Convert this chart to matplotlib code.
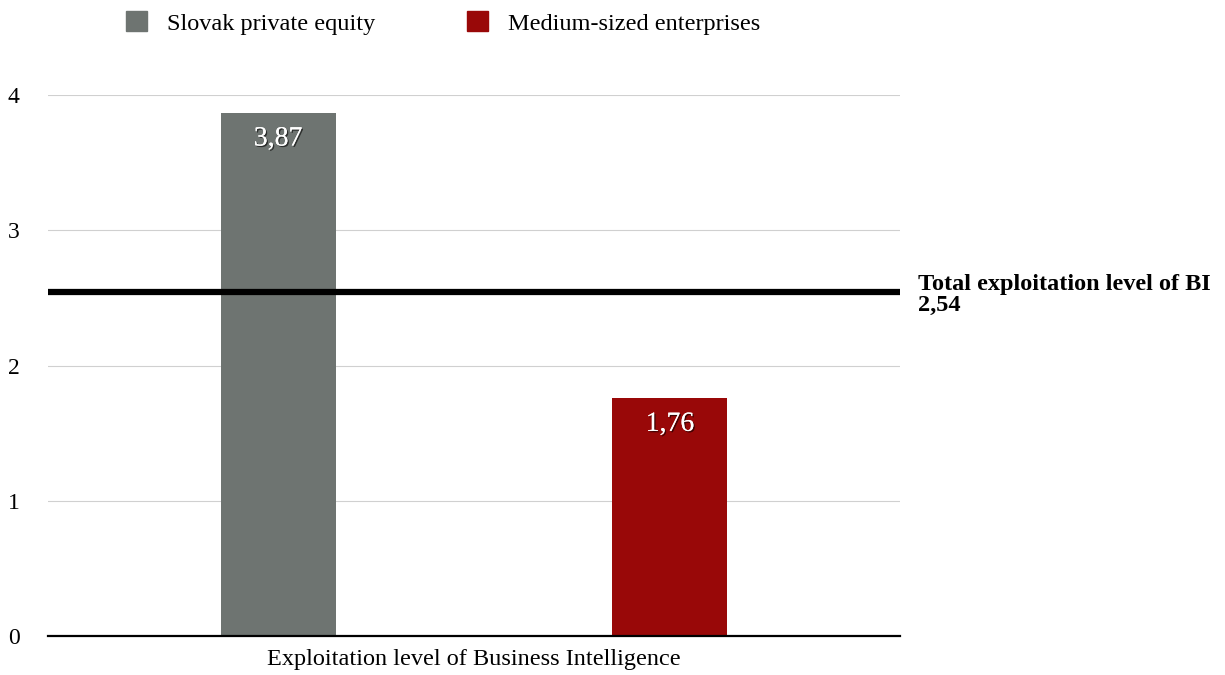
import matplotlib.pyplot as plt
import matplotlib.patheffects as pe
from matplotlib.patches import Patch

plt.rcParams["font.family"] = ["Liberation Serif", "DejaVu Serif"]

series = ["Slovak private equity", "Medium-sized enterprises"]
values = [3.87, 1.76]
colors = ["#6e7471", "#990808"]
total_level = 2.54
category = "Exploitation level of Business Intelligence"
yticks = [0, 1, 2, 3, 4]


def fmt(v):
    # decimal comma
    return f"{v:.2f}".replace(".", ",")


fig = plt.figure(figsize=(12.25, 6.75), dpi=100)
ax = fig.add_axes([48 / 1225, 39 / 675, 852 / 1225, 541 / 675])

offsets = [-0.23, 0.23]
bars = ax.bar(offsets, values, width=0.135, color=colors, zorder=3)

for bar, v in zip(bars, values):
    ax.annotate(
        fmt(v),
        (bar.get_x() + bar.get_width() / 2, bar.get_height()),
        xytext=(0, -10),
        textcoords="offset points",
        ha="center",
        va="top",
        fontsize=20,
        color="white",
        zorder=5,
        path_effects=[pe.withSimplePatchShadow(offset=(1, -1), shadow_rgbFace="black", alpha=0.6), pe.Normal()],
    )

# overall level across all enterprises
ax.axhline(total_level, color="black", linewidth=4.5, zorder=4)
ax.annotate(
    f"Total exploitation level of BI\n{fmt(total_level)}",
    (1, total_level),
    xycoords=("axes fraction", "data"),
    xytext=(13, 13),
    textcoords="offset points",
    ha="left",
    va="top",
    fontsize=17.5,
    fontweight="bold",
    linespacing=0.95,
    annotation_clip=False,
)

ax.set_xlim(-0.5, 0.5)
ax.set_ylim(0, 4)
ax.set_yticks(yticks)
ax.set_yticklabels([str(t) for t in yticks], fontsize=17, ha="left")
ax.tick_params(axis="y", length=0, pad=29)
ax.set_xticks([0])
ax.set_xticklabels([category], fontsize=17.5)
ax.tick_params(axis="x", length=0, pad=9)
ax.grid(axis="y", color="#d0d0d0", linewidth=0.8, zorder=0)
for side in ["top", "right", "left"]:
    ax.spines[side].set_visible(False)
ax.spines["bottom"].set_linewidth(1.6)
ax.spines["bottom"].set_zorder(6)

handles = [Patch(color=c, label=s) for s, c in zip(series, colors)]
fig.legend(
    handles=handles,
    loc="center left",
    bbox_to_anchor=(104 / 1225, 1 - 23 / 675),
    ncol=2,
    frameon=False,
    fontsize=17.5,
    handlelength=0.86,
    handleheight=0.86,
    handletextpad=0.82,
    columnspacing=3.8,
)

fig.savefig("out.png", dpi=100)
